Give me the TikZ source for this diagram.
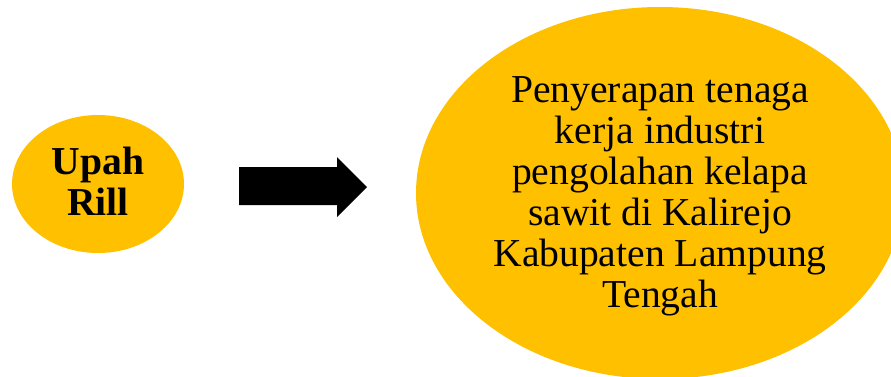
\documentclass[tikz,border=0pt]{standalone}
\usepackage{fontspec}
\setmainfont{Liberation Serif}
\usetikzlibrary{shapes.geometric}
\definecolor{gold}{HTML}{FFC000}
\tikzset{
  blob/.style={ellipse, fill=gold, draw=none, inner sep=0pt},
  words/.style={align=center, inner sep=0pt, anchor=base, font=\fontsize{39.6}{41}\selectfont}
}
\begin{document}
\begin{tikzpicture}[x=1pt,y=-1pt]
\useasboundingbox (0,0) rectangle (891,376);
\clip (0,0) rectangle (891,376);
\node[blob, minimum width=172pt, minimum height=138pt] (upah) at (98,184) {};
\node[words, font=\fontsize{39.6}{41}\selectfont\bfseries] (upahtxt) at (98,215) {Upah\\Rill};
\node[blob, minimum width=488pt, minimum height=372pt] (serap) at (660,193) {};
\node[words] (txt) at (660,307)
  {Penyerapan tenaga\\kerja industri\\pengolahan kelapa\\sawit di Kalirejo\\Kabupaten Lampung\\Tengah};
\fill[black] (239,167) -- (337,167) -- (337,157) -- (367,187) -- (337,217) -- (337,205) -- (239,205) -- cycle;
\end{tikzpicture}
\end{document}
